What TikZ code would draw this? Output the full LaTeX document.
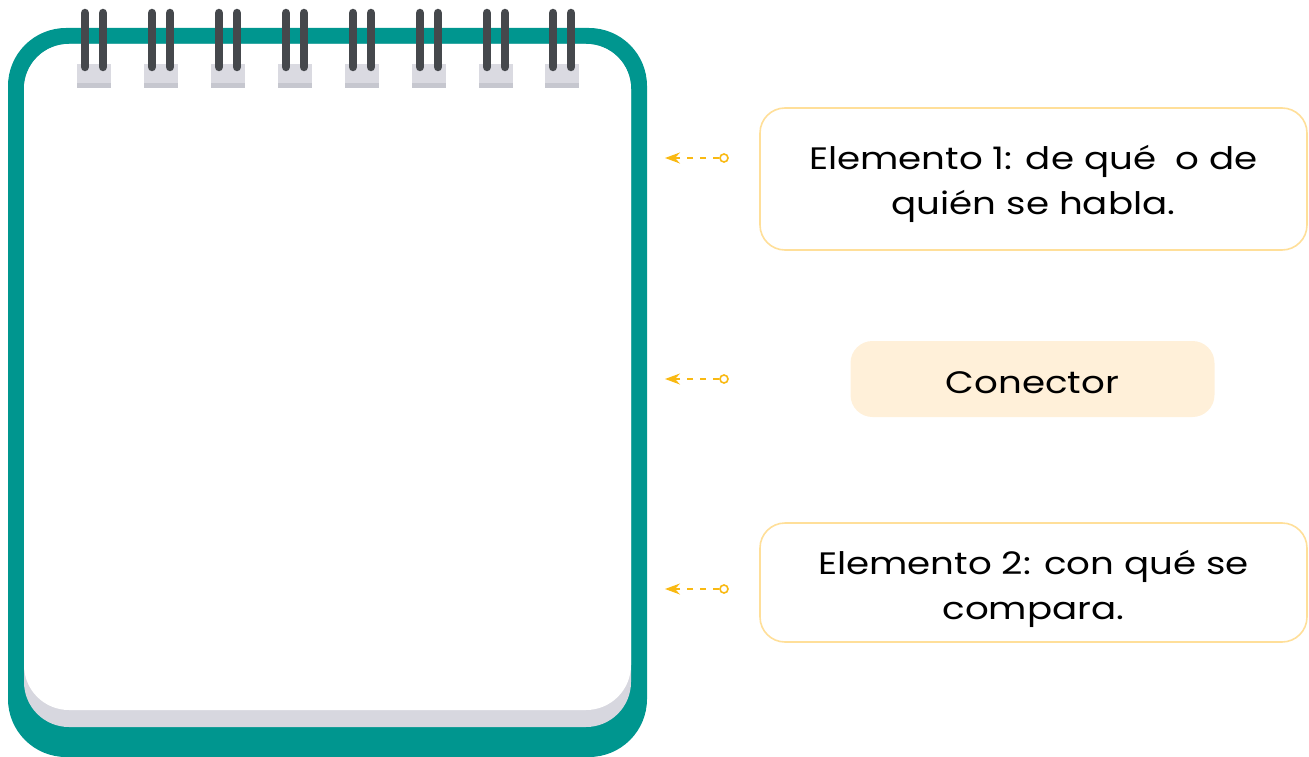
\documentclass[tikz,border=0pt]{standalone}
\usepackage{fontspec}
\setmainfont{Poppins}[FakeStretch=1.2]
\usetikzlibrary{arrows.meta}
\definecolor{teal1}{HTML}{00968F}
\definecolor{ringc}{HTML}{45484C}
\definecolor{tabc}{HTML}{DADAE1}
\definecolor{tabd}{HTML}{C6C7CF}
\definecolor{shad}{HTML}{D7D7DF}
\definecolor{arrc}{HTML}{F9B912}
\definecolor{boxb}{HTML}{FFDF99}
\definecolor{boxf}{HTML}{FFF0D9}
\tikzset{
  txt/.style={align=center, font=\fontsize{31}{45}\selectfont, inner sep=0pt},
  infobox/.style={draw=boxb, line width=1.6pt, rounded corners=25pt, fill=white, inner sep=0pt},
  fillbox/.style={fill=boxf, rounded corners=22pt, inner sep=0pt},
  ringbar/.style={draw=ringc, line width=8.5pt, line cap=round},
  endcirc/.style={circle, draw=arrc, line width=1.6pt, minimum size=8pt, inner sep=0pt, fill=white},
  pointer/.style={draw=arrc, line width=1.6pt, dash pattern=on 6pt off 7pt, -{Stealth[length=15pt,width=11pt,inset=5pt]}}
}
\begin{document}
\begin{tikzpicture}[x=1pt,y=-1pt]
\useasboundingbox (0,0) rectangle (1309,757);
% notebook
\fill[teal1, rounded corners=58pt] (8,28) rectangle (647,757);
\fill[shad, rounded corners=45pt] (24,44) rectangle (631,727);
\fill[white, rounded corners=45pt] (24,44) rectangle (631,710);
% rings
\foreach \cx in {94,161,228,295,362,429,496,562}{
  \fill[tabc] (\cx-17,64) rectangle (\cx+17,88);
  \fill[tabd] (\cx-17,83) rectangle (\cx+17,88);
  \draw[ringbar] (\cx-9,13) -- (\cx-9,67);
  \draw[ringbar] (\cx+9,13) -- (\cx+9,67);
}
% boxes
\node[infobox, minimum width=547pt, minimum height=142pt,
  label={[txt, yshift=-5pt]center:Elemento 1: de qué\ \ o de\\quién se habla.}] (b1) at (1033.5,179) {};
\node[fillbox, minimum width=364pt, minimum height=76pt,
  label={[txt, yshift=-4pt]center:Conector}] (b2) at (1032.5,379) {};
\node[infobox, minimum width=547pt, minimum height=119pt,
  label={[txt, yshift=-6pt]center:Elemento 2: con qué se\\compara.}] (b3) at (1033.5,582.5) {};
% pointers
\node[endcirc] (c1) at (724,158) {};
\node[endcirc] (c2) at (724,379) {};
\node[endcirc] (c3) at (724,589) {};
\coordinate (t1) at (665,158);
\coordinate (t2) at (665,379);
\coordinate (t3) at (665,589);
\draw[pointer] (c1) -- (t1);
\draw[pointer] (c2) -- (t2);
\draw[pointer] (c3) -- (t3);
\end{tikzpicture}
\end{document}
